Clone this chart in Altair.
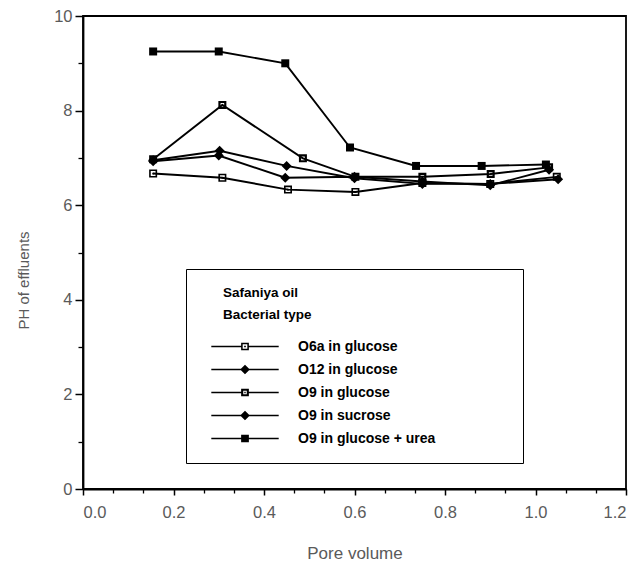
import altair as alt
import pandas as pd

series_names = ["O6a in glucose", "O12 in glucose", "O9 in glucose",
                "O9 in sucrose", "O9 in glucose + urea"]

x_o6a = [0.155, 0.308, 0.453, 0.602, 0.750, 0.900, 1.047]
y_o6a = [6.67, 6.58, 6.33, 6.28, 6.47, 6.45, 6.60]

x_o12 = [0.155, 0.302, 0.450, 0.600, 0.750, 0.900, 1.050]
y_o12 = [6.95, 7.15, 6.83, 6.57, 6.45, 6.45, 6.55]

x_o9g = [0.155, 0.308, 0.486, 0.602, 0.750, 0.901, 1.030]
y_o9g = [6.97, 8.12, 6.99, 6.60, 6.60, 6.66, 6.80]

x_o9s = [0.155, 0.300, 0.447, 0.600, 0.750, 0.900, 1.030]
y_o9s = [6.93, 7.05, 6.58, 6.60, 6.50, 6.42, 6.75]

x_urea = [0.155, 0.300, 0.447, 0.590, 0.736, 0.881, 1.023]
y_urea = [9.25, 9.25, 9.00, 7.22, 6.83, 6.83, 6.86]

x_major = [0.0, 0.2, 0.4, 0.6, 0.8, 1.0, 1.2]
x_minor = [0.0667, 0.1333, 0.2667, 0.3333, 0.4667, 0.5333, 0.6667,
           0.7333, 0.8667, 0.9333, 1.0667, 1.1333]
y_major = [0, 2, 4, 6, 8, 10]
y_minor = [1, 3, 5, 7, 9]

legend_title = ["Safaniya oil", "Bacterial type"]

rows = []
for name, xs_, ys_ in zip(series_names,
                          [x_o6a, x_o12, x_o9g, x_o9s, x_urea],
                          [y_o6a, y_o12, y_o9g, y_o9s, y_urea]):
    for xv, yv in zip(xs_, ys_):
        rows.append({"series": name, "pv": xv, "ph": yv})
df = pd.DataFrame(rows)

# marker shapes (unit square coordinates), filled black; holes via reverse winding
open_sq = "M-1,-1H1V1H-1Z M-0.6,-0.6V0.6H0.6V-0.6Z M-0.22,-0.22H0.22V0.22H-0.22Z"
open_sq2 = "M-1,-1H1V1H-1Z M-0.45,-0.45V0.45H0.45V-0.45Z M-0.18,-0.18H0.18V0.18H-0.18Z"
diamond = "M0,-1.25L1.25,0L0,1.25L-1.25,0Z"
fill_sq = "M-1,-1H1V1H-1Z"
marks = [open_sq, diamond, open_sq2, diamond, fill_sq]

line_seg = "M-8.7,-0.2H-1V0.2H-8.7Z M1,-0.2H8.7V0.2H1Z"
legend_marks = [line_seg + " " + m for m in marks]

BLANK = "\u2800"  # non-trimmed blank glyph used to pad legend text

xs = alt.Scale(domain=[0, 1.2], nice=False)
ys = alt.Scale(domain=[0, 10], nice=False)

lab_font = "Liberation Sans"
lab_col = "#5a5a5a"

x_axis_major = alt.Axis(values=x_major, format=".1f", tickSize=6, tickWidth=1.5,
                        tickColor="black", domainColor="black", domainWidth=1.8,
                        labelFont=lab_font, labelFontSize=16.5, labelColor=lab_col,
                        labelPadding=9, grid=False, title="Pore volume",
                        titleFont=lab_font, titleFontSize=17, titleFontWeight="normal",
                        titleColor=lab_col, titleY=64, titleBaseline="middle",
                        orient="bottom")
y_axis_major = alt.Axis(values=y_major, tickSize=8, tickWidth=1.5,
                        tickColor="black", domainColor="black", domainWidth=1.8,
                        labelFont=lab_font, labelFontSize=16.5, labelColor=lab_col,
                        labelPadding=3, grid=False, title="PH of effluents",
                        titleFont=lab_font, titleFontSize=15, titleFontWeight="normal",
                        titleColor=lab_col, titleX=-60, titleY=264,
                        titleBaseline="middle", orient="left")
x_axis_minor = alt.Axis(values=x_minor, tickSize=4, tickWidth=1.3, tickColor="black",
                        labels=False, domain=False, grid=False, title=None,
                        orient="bottom")
y_axis_minor = alt.Axis(values=y_minor, tickSize=5, tickWidth=1.3, tickColor="black",
                        labels=False, domain=False, grid=False, title=None,
                        orient="left")

base = alt.Chart(df)

lines = base.mark_line(color="black", strokeWidth=1.9).encode(
    x=alt.X("pv:Q", scale=xs, axis=x_axis_major),
    y=alt.Y("ph:Q", scale=ys, axis=y_axis_major),
    detail="series:N",
)

points = base.mark_point(filled=True, fill="black", strokeWidth=0, size=64,
                         opacity=1).encode(
    x=alt.X("pv:Q", scale=xs, axis=x_axis_minor),
    y=alt.Y("ph:Q", scale=ys, axis=y_axis_minor),
    shape=alt.Shape("series:N", scale=alt.Scale(domain=series_names, range=marks),
                    legend=None),
)

legend_layer = base.mark_point(filled=True, fill="black", strokeWidth=0, size=60,
                               opacity=0).encode(
    x=alt.X("pv:Q", scale=xs, axis=None),
    y=alt.Y("ph:Q", scale=ys, axis=None),
    shape=alt.Shape(
        "series:N",
        scale=alt.Scale(domain=series_names, range=legend_marks),
        legend=alt.Legend(
            orient="none", legendX=103, legendY=253,
            title=[BLANK * 2 + t for t in legend_title],
            titleFont=lab_font, titleFontSize=13.5, titleFontWeight="bold",
            titleColor="black", titleLineHeight=22, titlePadding=18,
            titleLimit=0,
            labelFont=lab_font, labelFontSize=14, labelFontWeight="bold",
            labelColor="black", labelOffset=46, labelLimit=0,
            labelExpr="datum.label + '" + BLANK * 7 + "'",
            symbolSize=60, symbolOpacity=1, symbolFillColor="black",
            symbolStrokeWidth=0, symbolOffset=35,
            rowPadding=9, padding=17,
            strokeColor="black", fillColor="white",
        ),
    ),
)

chart = alt.layer(lines, points, legend_layer).resolve_scale(
    shape="independent"
).resolve_axis(
    x="independent", y="independent"
).properties(
    width=543, height=473,
    autosize=alt.AutoSizeParams(type="none"),
    padding={"left": 75, "top": 8, "right": 8, "bottom": 72},
).configure_view(
    stroke="black", strokeWidth=1.8
)

chart.save("out.html", embed_options={"renderer": "svg", "actions": False})
